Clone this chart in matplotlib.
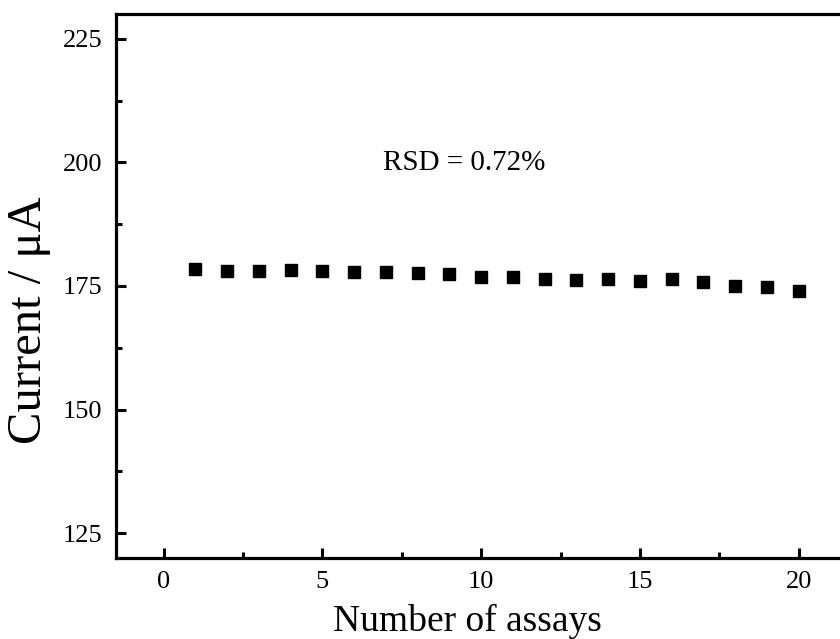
import matplotlib
matplotlib.use("Agg")
import matplotlib.pyplot as plt
from matplotlib.ticker import MultipleLocator

assays = list(range(1, 21))
current = [178.4, 178.1, 178.0, 178.2, 178.0, 177.8, 177.8, 177.7, 177.4, 176.9,
           176.9, 176.4, 176.2, 176.4, 176.0, 176.4, 175.9, 175.0, 174.7, 174.0]
annotation = "RSD = 0.72%"

plt.rcParams['font.family'] = ['Liberation Serif', 'DejaVu Serif']

fig = plt.figure(figsize=(8.4, 6.39), dpi=100)
x0, x1 = -1.5, 22.0
pxu = 31.75
left = 116 / 840
axw_px = (x1 - x0) * pxu
ax = fig.add_axes([left, 81 / 639, axw_px / 840, 544 / 639])

ax.plot(assays, current, linestyle='none', marker='s', markersize=8.5,
        color='black')
ax.set_xlim(x0, x1)
ax.set_ylim(120, 230)
ax.xaxis.set_major_locator(MultipleLocator(5))
ax.xaxis.set_minor_locator(MultipleLocator(2.5))
ax.yaxis.set_major_locator(MultipleLocator(25))
ax.yaxis.set_minor_locator(MultipleLocator(12.5))
ax.tick_params(which='both', direction='in', width=2.2, top=False, right=False)
ax.tick_params(which='major', length=7, pad=10)
ax.tick_params(which='minor', length=4)
ax.tick_params(axis='x', labelsize=19, pad=9)
ax.tick_params(axis='y', labelsize=19)
for s in ax.spines.values():
    s.set_linewidth(2.3)

ax.set_xlabel("Number of assays", fontsize=27, va='center')
ax.xaxis.set_label_coords((467 - 116) / axw_px, (558 - 621) / 544)
ax.set_ylabel("Current / μA", fontsize=35, va='center')
ax.yaxis.set_label_coords((29 - 116) / axw_px, (558 - 320) / 544)
ax.text(6.9, 199.8, annotation, fontsize=21, va='center', ha='left')

fig.savefig("out.png", dpi=100)
